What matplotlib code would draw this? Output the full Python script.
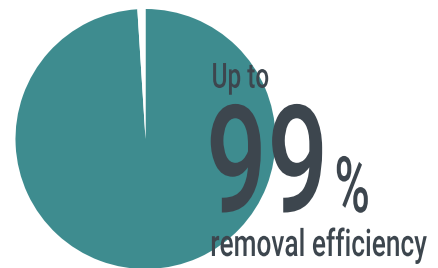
import matplotlib
matplotlib.use("Agg")
import matplotlib.pyplot as plt
from matplotlib.patheffects import AbstractPathEffect
from matplotlib.transforms import Affine2D

# datos del grafico
partes = [99, 1]
colores = ["#3e8c8f", "white"]
linea1 = "Up to"
numero = "99"
signo = "%"
linea3 = "removal efficiency"

gris = "#3d464e"


class Angosto(AbstractPathEffect):
    # comprime el texto en x (fuente condensada), fijando el borde izq. o der.
    def __init__(self, sx, lado="left"):
        super().__init__()
        self.sx = sx
        self.lado = lado

    def draw_path(self, renderer, gc, tpath, affine, rgbFace=None):
        ext = tpath.get_extents(affine)
        x0 = ext.x0 if self.lado == "left" else ext.x1
        t = affine + Affine2D().translate(-x0, 0).scale(self.sx, 1).translate(x0, 0)
        renderer.draw_path(gc, tpath, t, rgbFace)


W, H = 438, 268
fig = plt.figure(figsize=(W / 100, H / 100), dpi=100)
ax = fig.add_axes([0, 0, 1, 1])

ax.pie(partes, colors=colores, startangle=90, counterclock=False,
       center=(145.5, H - 139), radius=130,
       wedgeprops=dict(linewidth=0, antialiased=True))

ax.set_xlim(0, W)
ax.set_ylim(0, H)
ax.set_aspect("equal")
ax.axis("off")

fuente = "Roboto"
peso = 500
ax.text(211, H - 87.7, linea1, fontsize=25, family=fuente, weight=peso, color=gris,
        va="baseline", ha="left", path_effects=[Angosto(0.7)])
ax.text(331, H - 212, numero, fontsize=108, family=fuente, weight=peso, color=gris,
        va="baseline", ha="right", path_effects=[Angosto(0.72, "right")])
ax.text(333, H - 212, signo, fontsize=56, family=fuente, weight=peso, color=gris,
        va="baseline", ha="left", path_effects=[Angosto(0.62)])
ax.text(427, H - 256, linea3, fontsize=27, family=fuente, weight=peso, color=gris,
        va="baseline", ha="right", path_effects=[Angosto(0.7, "right")])

fig.savefig("out.png", dpi=100)
